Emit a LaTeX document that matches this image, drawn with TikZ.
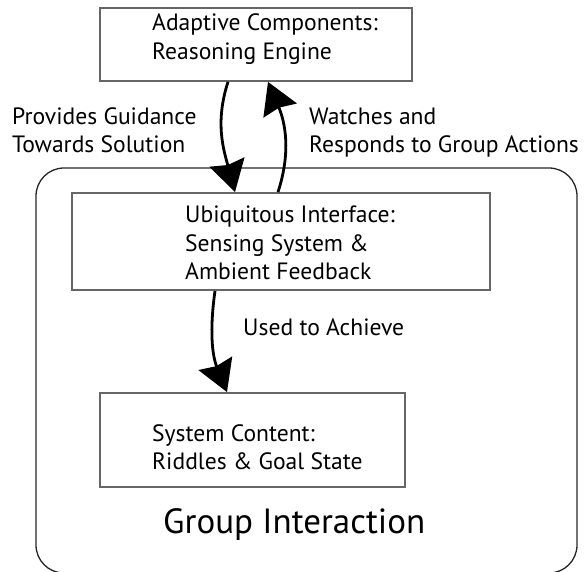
\documentclass[tikz,border=0pt]{standalone}
\usepackage{fontspec}
\setmainfont{PT Sans}
\usetikzlibrary{arrows.meta}
\begin{document}
\begin{tikzpicture}[x=1pt,y=1pt,
  box/.style={draw=black!60,line width=1.8pt,fill=white,inner sep=0pt},
  txt/.style={anchor=base west,inner sep=0pt,font=\fontsize{23.6}{28}\selectfont},
  flow/.style={line width=2.8pt,-{Stealth[length=31pt,width=36pt,inset=3pt]}}]
\useasboundingbox (0,0) rectangle (584,571);

% outer group frame
\node[draw=black!85,line width=1.3pt,rounded corners=28pt,inner sep=0pt,
      minimum width=541pt,minimum height=405pt] (group) at (306.5,200.5) {};

% boxes
\node[box,minimum width=312pt,minimum height=73pt] (top) at (256,526.5) {};
\node[box,minimum width=418pt,minimum height=97pt] (mid) at (281,329.5) {};
\node[box,minimum width=305pt,minimum height=94pt] (bot) at (252.5,131) {};

% box texts
\node[txt] (t1) at (152,540) {Adaptive Components:};
\node[txt] (t2) at (152,511) {Reasoning Engine};
\node[txt] (m1) at (185,348) {Ubiquitous Interface:};
\node[txt] (m2) at (185,319.5) {Sensing System \&};
\node[txt] (m3) at (185,291) {Ambient Feedback};
\node[txt] (b1) at (152,130) {System Content:};
\node[txt] (b2) at (152,102) {Riddles \& Goal State};

% connector labels
\node[txt] (l1) at (12,446) {Provides Guidance};
\node[txt] (l2) at (12,418) {Towards Solution};
\node[txt] (r1) at (309,446) {Watches and};
\node[txt] (r2) at (309,418) {Responds to Group Actions};
\node[txt] (u1) at (243,235) {Used to Achieve};
\node[anchor=base west,inner sep=0pt,font=\fontsize{35}{40}\selectfont] (g) at (163,38) {Group Interaction};

% connectors
\draw[flow] ([xshift=-28pt]top.south) to[out=252,in=105] ([xshift=-46pt]mid.north);
\draw[flow] ([xshift=-3pt]mid.north) to[out=72,in=-67] ([xshift=12pt]top.south);
\draw[flow] ([xshift=-66pt]mid.south) to[out=262,in=112] ([xshift=-25.5pt]bot.north);
\end{tikzpicture}
\end{document}
